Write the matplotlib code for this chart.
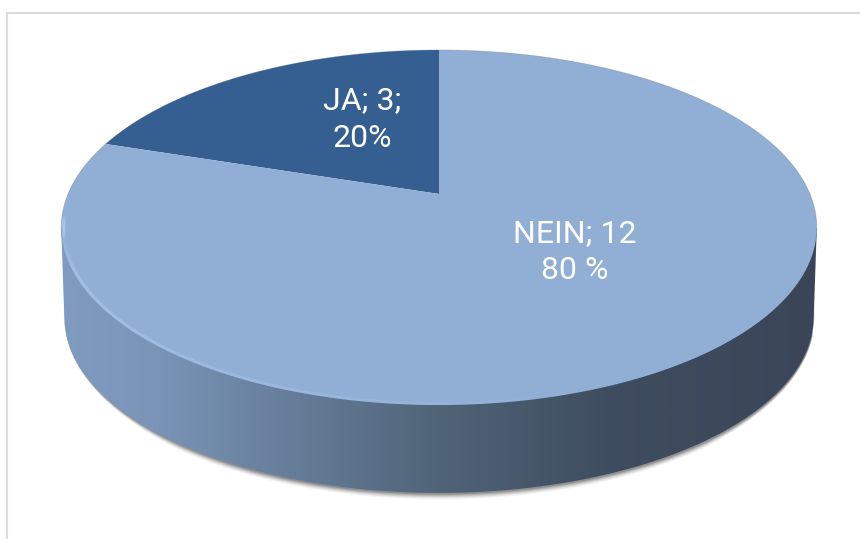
import numpy as np
import matplotlib
matplotlib.use("Agg")
import matplotlib.pyplot as plt
from matplotlib.path import Path
from matplotlib.patches import PathPatch
from matplotlib.transforms import Transform, Affine2D
from matplotlib.colors import LinearSegmentedColormap
from matplotlib.collections import LineCollection

categories = ["JA", "NEIN"]
values = [3, 12]
slice_colors = ["#365f91", "#91aed4"]
label_texts = ["JA; 3;\n20%", "NEIN; 12\n80 %"]

plt.rcParams["font.family"] = ["Roboto", "DejaVu Sans"]


class Perspective(Transform):
    """Projects the flat pie circle onto the tilted disc (in pixel coordinates)."""
    input_dims = output_dims = 2
    is_separable = False

    def __init__(self, cx, cy, b, a, k):
        super().__init__()
        self.cx, self.cy, self.b, self.a, self.k = cx, cy, b, a, k

    def transform_non_affine(self, xy):
        xy = np.asarray(xy, float)
        d = 1 + self.k * xy[:, 1]
        return np.column_stack([self.cx + self.b * xy[:, 0] / d,
                                self.cy - self.a * xy[:, 1] / d])

    def transform_path_non_affine(self, path):
        polys = Affine2D().scale(3000).transform_path(path).to_polygons(closed_only=True)
        verts = np.vstack(polys) / 3000
        codes = []
        for p in polys:
            codes += [Path.MOVETO] + [Path.LINETO] * (len(p) - 2) + [Path.CLOSEPOLY]
        return Path(self.transform_non_affine(verts), codes)


fig = plt.figure(figsize=(8.6, 5.39), dpi=100, facecolor="white")
ax = fig.add_axes([0, 0, 1, 1])
wedges, _ = ax.pie(values, colors=slice_colors, startangle=90, radius=1,
                   wedgeprops=dict(linewidth=0))
ax.set_aspect("auto")
ax.set_xlim(0, 860)
ax.set_ylim(539, 0)
ax.axis("off")

top = Perspective(439, 194, 371, 171.2, 0.1887)
bottom = Perspective(439, 284, 368, 169.5, 0.1887)
t = np.linspace(0, 2 * np.pi, 721)
circle = np.column_stack([np.cos(t), np.sin(t)])
top_pts = top.transform_non_affine(circle)
bot_pts = bottom.transform_non_affine(circle)

# frame (left and top only reach the picture's visible edges)
ax.plot([6.5, 6.5, 860], [539, 12.5, 12.5], color="#dcdcdc", lw=1.6, zorder=0,
        solid_joinstyle="miter")

# soft shadow under the disc
for off, alpha in zip([6, 5, 4, 3, 2, 1], [.05, .07, .10, .14, .18, .24]):
    m = bot_pts[:, 1] > 300
    idx = np.argsort(bot_pts[m, 0])
    xs = bot_pts[m, 0][idx]
    ys = bot_pts[m, 1][idx]
    ax.fill_between(xs, ys - 5, ys + off * (0.25 + 0.75 * np.clip((xs - 60) / 120, 0, 1)
                                            * np.clip((820 - xs) / 120, 0, 1)),
                    color="#404040", alpha=alpha, lw=0, zorder=1)

# side wall with horizontal gradient
il = np.argmin(top_pts[:, 0]); ir = np.argmax(top_pts[:, 0])
jl = np.argmin(bot_pts[:, 0])
low = bot_pts[bot_pts[:, 1] > bot_pts[jl, 1] - 1]
low = low[np.argsort(low[:, 0])]
outline = np.vstack([top_pts[il], low, top_pts[ir], top_pts[il]])
clip = PathPatch(Path(outline), transform=ax.transData, fc="none", ec="none")
ax.add_patch(clip)
side = LinearSegmentedColormap.from_list("side", [
    (0.00, "#7f9bc0"), (0.12, "#7a95b8"), (0.30, "#677e9b"),
    (0.50, "#506478"), (0.72, "#3f4d60"), (1.00, "#3a4658")])
im = ax.imshow(np.linspace(0, 1, 512)[None, :], cmap=side, aspect="auto",
               extent=[61, 817, 539, 0], zorder=2)
im.set_clip_path(clip)
ax.set_xlim(0, 860)
ax.set_ylim(539, 0)

# pie surface
persp_tr = top + ax.transData
for w in wedges:
    w.set_transform(persp_tr)
    w.set_zorder(3)
    w.set_clip_on(False)

# light bevel on the lower left rim, just inside the edge
inner = top.transform_non_affine(circle * 0.995)
rim = inner[inner[:, 1] > 215]
rim = rim[np.argsort(rim[:, 0])]
segs = np.stack([rim[:-1], rim[1:]], axis=1)
rim_a = np.clip(1 - (rim[:-1, 0] - 61) / 520, 0, 1) * np.clip((rim[:-1, 0] - 61) / 12, 0, 1) * 0.5
cols = np.tile(matplotlib.colors.to_rgba("#b4d0f7"), (len(segs), 1))
cols[:, 3] = rim_a
ax.add_collection(LineCollection(segs, colors=cols, linewidths=2.2, zorder=4))

# thin soft edge on the upper/right rim
ax.plot(top_pts[:, 0], np.where(top_pts[:, 1] <= 240, top_pts[:, 1], np.nan),
        color="#5f6f88", lw=0.6, alpha=0.3, zorder=4)

# labels
ax.text(362, 119.5, label_texts[0], color="white", fontsize=23, ha="center", va="center",
        linespacing=1.38, zorder=5)
ax.text(575, 252, label_texts[1], color="white", fontsize=23, ha="center", va="center",
        linespacing=1.38, zorder=5)

fig.savefig("out.png", dpi=100, facecolor="white")
